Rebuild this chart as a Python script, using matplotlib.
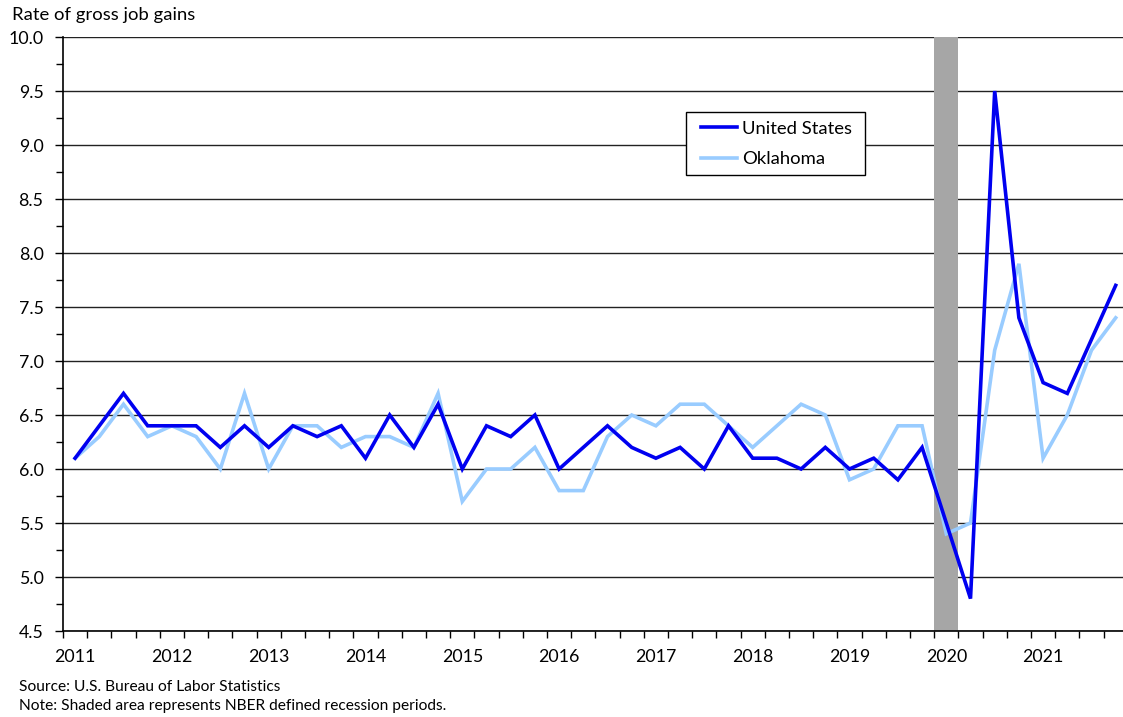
import matplotlib
matplotlib.use("Agg")
import matplotlib.pyplot as plt
from matplotlib.ticker import MultipleLocator, FixedLocator, FormatStrFormatter
from matplotlib.patches import Rectangle

plt.rcParams['font.family'] = ['Lato', 'DejaVu Sans']

years = [str(y) for y in range(2011, 2022)]
quarters = [f"{y}Q{q}" for y in range(2011, 2022) for q in range(1, 5)]

us = [6.1, 6.4, 6.7, 6.4, 6.4, 6.4, 6.2, 6.4, 6.2, 6.4, 6.3, 6.4,
      6.1, 6.5, 6.2, 6.6, 6.0, 6.4, 6.3, 6.5, 6.0, 6.2, 6.4, 6.2,
      6.1, 6.2, 6.0, 6.4, 6.1, 6.1, 6.0, 6.2, 6.0, 6.1, 5.9, 6.2,
      5.5, 4.8, 9.5, 7.4, 6.8, 6.7, 7.2, 7.7]
ok = [6.1, 6.3, 6.6, 6.3, 6.4, 6.3, 6.0, 6.7, 6.0, 6.4, 6.4, 6.2,
      6.3, 6.3, 6.2, 6.7, 5.7, 6.0, 6.0, 6.2, 5.8, 5.8, 6.3, 6.5,
      6.4, 6.6, 6.6, 6.4, 6.2, 6.4, 6.6, 6.5, 5.9, 6.0, 6.4, 6.4,
      5.4, 5.5, 7.1, 7.9, 6.1, 6.5, 7.1, 7.4]
recession = ["2020Q1"]

W, H = 1123, 717
fig = plt.figure(figsize=(W / 100, H / 100), dpi=100)
ax = fig.add_axes([63 / W, 1 - 631 / H, (W - 63) / W, (631 - 37) / H])

x = list(range(len(quarters)))

for r in recession:
    i = quarters.index(r)
    ax.axvspan(i - 0.5, i + 0.5, color='#A6A6A6', zorder=1, lw=0)

ax.plot(x, us, color='#0000F0', lw=2.6, label='United States', zorder=3,
        solid_joinstyle='miter')
ax.plot(x, ok, color='#99CCFF', lw=2.6, label='Oklahoma', zorder=2,
        solid_joinstyle='miter')

ax.set_ylim(4.5, 10.0)
ax.set_xlim(-0.5, (W - 63) / 24.2 - 0.5)

ax.yaxis.set_major_locator(MultipleLocator(0.5))
ax.yaxis.set_minor_locator(MultipleLocator(0.25))
ax.yaxis.set_major_formatter(FormatStrFormatter('%.1f'))
ax.grid(axis='y', which='major', color='#222222', lw=1.0, zorder=0)
ax.set_axisbelow(True)

year_pos = [quarters.index(y + "Q1") for y in years]
ax.xaxis.set_major_locator(FixedLocator(year_pos))
ax.set_xticklabels(years)
ax.xaxis.set_minor_locator(FixedLocator([i - 0.5 for i in range(len(quarters) + 1)]))

ax.tick_params(axis='x', which='major', length=0, pad=13, labelsize=12.8, colors='black')
ax.tick_params(axis='x', which='minor', length=5, width=1, direction='out')
ax.tick_params(axis='y', which='major', length=6, width=1, pad=8, labelsize=12.8)
ax.tick_params(axis='y', which='minor', length=5, width=1)

for s in ['top', 'right']:
    ax.spines[s].set_visible(False)
ax.spines['left'].set_linewidth(1.2)
ax.spines['bottom'].set_linewidth(1.2)

# legend box
box = Rectangle((686 / W, 1 - 175 / H), (865 - 686) / W, (175 - 112) / H,
                transform=fig.transFigure, facecolor='white', edgecolor='black',
                lw=1.0, zorder=4)
ax.add_patch(box)
box.set_clip_on(False)

leg = ax.legend(loc='upper left', bbox_to_anchor=(701 / W, 1 - 120.5 / H),
                bbox_transform=fig.transFigure, fontsize=13.3, frameon=False,
                handlelength=1.95, handletextpad=0.25, borderpad=0,
                labelspacing=0.8, borderaxespad=0)
leg.set_zorder(5)

fig.text(12 / W, 1 - 15 / H, "Rate of gross job gains", fontsize=13.3,
         va='center', ha='left')
fig.text(19 / W, 1 - 687 / H, "Source: U.S. Bureau of Labor Statistics",
         fontsize=11.2, va='center', ha='left')
fig.text(19 / W, 1 - 706 / H,
         "Note: Shaded area represents NBER defined recession periods.",
         fontsize=11.2, va='center', ha='left')

fig.savefig("out.png", dpi=100)
